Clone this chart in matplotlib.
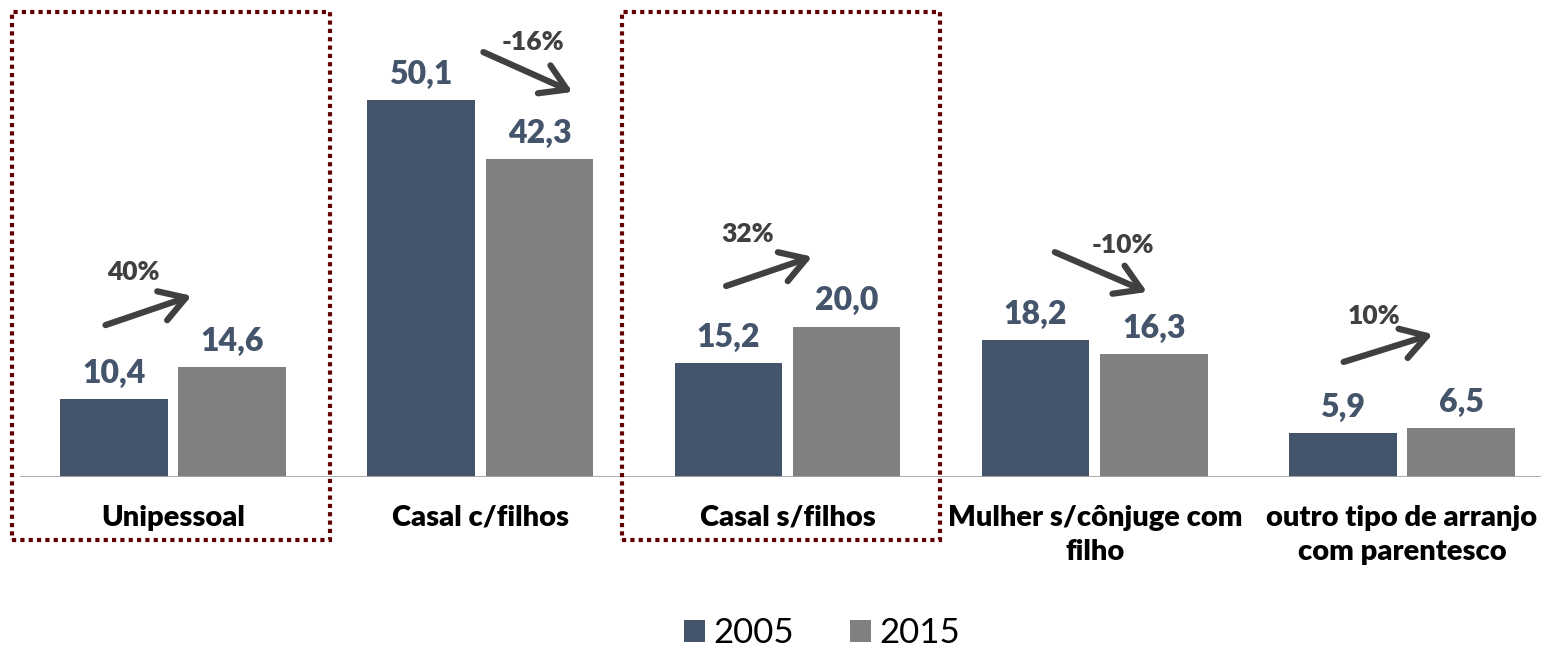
import matplotlib.pyplot as plt
from matplotlib.patches import Rectangle

plt.rcParams["font.family"] = ["Lato", "DejaVu Sans"]
plt.rcParams["font.weight"] = "heavy"

categories = [
    "Unipessoal",
    "Casal c/filhos",
    "Casal s/filhos",
    "Mulher s/cônjuge com\nfilho",
    "outro tipo de arranjo\ncom parentesco",
]
years = ["2005", "2015"]
values_2005 = [10.4, 50.1, 15.2, 18.2, 5.9]
values_2015 = [14.6, 42.3, 20.0, 16.3, 6.5]
change_labels = ["40%", "-16%", "32%", "-10%", "10%"]
highlighted = [0, 2]

# arrow layout per category: (dx start, y start, dx end, y end, dx text, y text)
arrow_layout = [
    (-0.22, 20.2, 0.06, 24.1, -0.13, 27.3),
    (0.01, 56.5, 0.30, 51.2, 0.17, 57.8),
    (-0.20, 25.4, 0.08, 29.3, -0.13, 32.3),
    (-0.13, 29.9, 0.17, 24.6, 0.09, 30.9),
    (-0.19, 15.3, 0.10, 19.0, -0.09, 21.4),
]

c_2005 = "#44546A"
c_2015 = "#808080"
c_arrow = "#404040"
c_box = "#600000"

fig = plt.figure(figsize=(15.41, 6.46), dpi=100)
ax = fig.add_axes([19.5 / 1541, 169 / 646, 1 - 19.5 / 1541, 477 / 646])

x = list(range(len(categories)))
width = 0.35
off = 0.1925
b1 = ax.bar([i - off for i in x], values_2005, width, color=c_2005, label=years[0])
b2 = ax.bar([i + off for i in x], values_2015, width, color=c_2015, label=years[1])

for bars, vals in ((b1, values_2005), (b2, values_2015)):
    for rect, v in zip(bars, vals):
        ax.annotate(f"{v:.1f}".replace(".", ","),
                    (rect.get_x() + rect.get_width() / 2, rect.get_height()),
                    xytext=(0, 8), textcoords="offset points",
                    ha="center", va="bottom", fontsize=23, fontweight="heavy",
                    color=c_2005)

for i, lbl in enumerate(change_labels):
    dx0, y0, dx1, y1, tdx, ty = arrow_layout[i]
    ax.annotate("", xy=(i + dx1, y1), xytext=(i + dx0, y0),
                arrowprops=dict(arrowstyle="->,head_length=0.9,head_width=0.55",
                                lw=4.5, color=c_arrow, shrinkA=0, shrinkB=0,
                                mutation_scale=20))
    ax.text(i + tdx, ty, lbl, ha="center", va="center", fontsize=19,
            fontweight="heavy", color=c_arrow)

# dotted highlight boxes
for i in highlighted:
    left = i - 0.54 if i else i - 0.524
    ax.add_patch(Rectangle((left, -8.4), 1.035, 70.2, fill=False,
                           edgecolor=c_box, lw=3, linestyle=(0, (1, 1)),
                           clip_on=False, zorder=5))

ax.set_xlim(-0.5, (1541 - 173) / 307.25)
ax.set_ylim(0, 477 / 7.52)
ax.axhline(0, color="#A6A6A6", lw=2, zorder=3)
for s in ax.spines.values():
    s.set_visible(False)
ax.set_yticks([])
ax.set_xticks(x)
ax.set_xticklabels(categories, fontsize=21, fontweight="heavy", color="black",
                   linespacing=1.4)
ax.tick_params(axis="x", length=0, pad=20)

fig.legend(handles=[b1, b2], labels=years, loc="center",
           bbox_to_anchor=(822 / 1541, 1 - 633 / 646),
           ncol=2, frameon=False, prop={"size": 25, "weight": "normal"},
           handlelength=0.6, handleheight=0.6, columnspacing=1.6,
           handletextpad=0.25)

fig.savefig("out.png", dpi=100, facecolor="white")
plt.close(fig)
